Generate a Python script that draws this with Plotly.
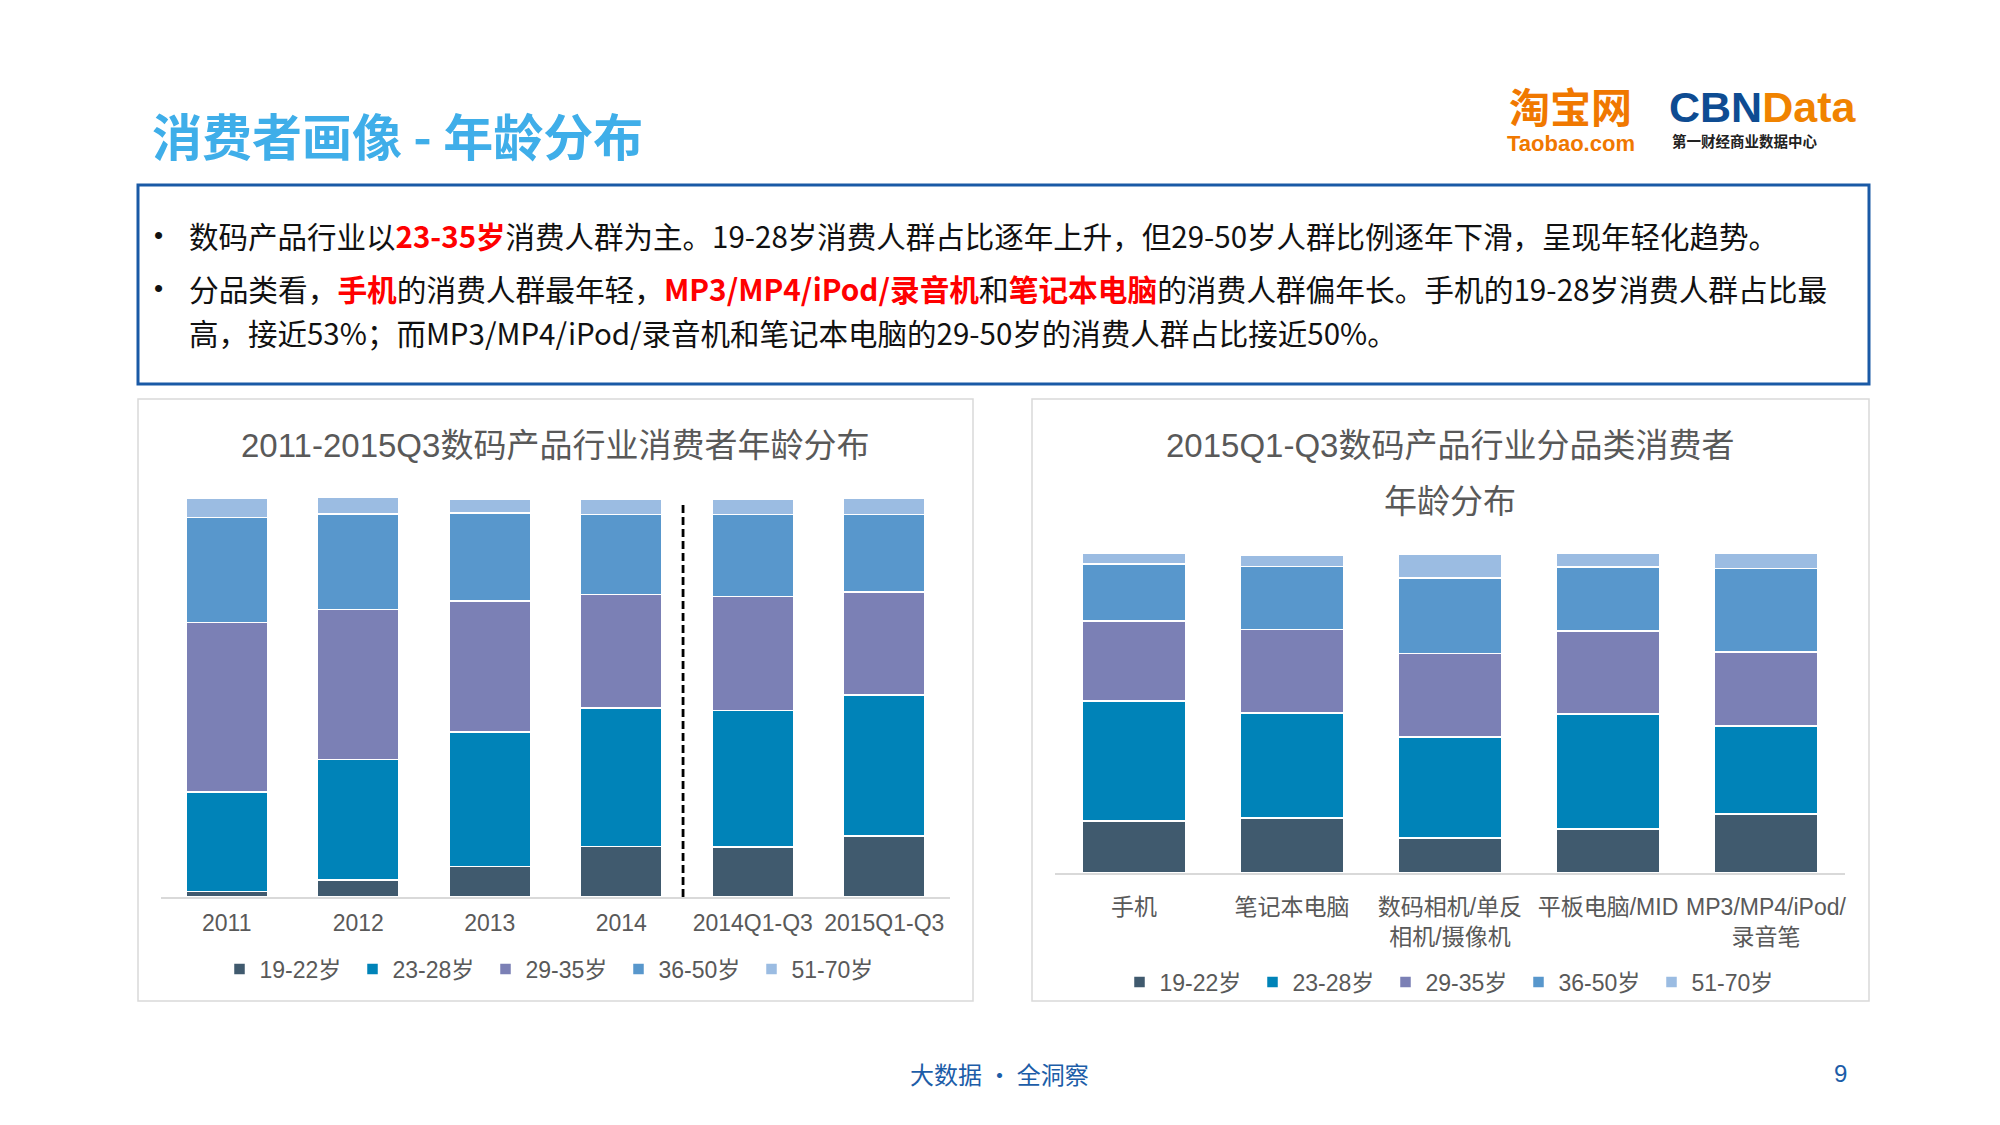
import plotly.graph_objects as go

# ---------------- data ----------------
years = ["2011", "2012", "2013", "2014", "2014Q1-Q3", "2015Q1-Q3"]
age_groups = ["19-22岁", "23-28岁", "29-35岁", "36-50岁", "51-70岁"]

trend_19_22 = [1.4, 4.2, 7.7, 12.7, 12.5, 15.3]
trend_23_28 = [24.9, 30.2, 33.7, 34.7, 34.2, 35.3]
trend_29_35 = [42.5, 37.6, 32.8, 28.4, 28.6, 25.9]
trend_36_50 = [26.3, 24.0, 22.0, 20.1, 20.6, 19.4]
trend_51_70 = [4.9, 4.1, 3.6, 3.8, 3.8, 4.1]

categories = ["手机", "笔记本电脑", "数码相机/单反相机/摄像机", "平板电脑/MID", "MP3/MP4/iPod/录音笔"]
category_ticks = ["手机", "笔记本电脑", "数码相机/单反<br>相机/摄像机", "平板电脑/MID", "MP3/MP4/iPod/<br>录音笔"]

cat_19_22 = [16.3, 17.2, 11.0, 13.8, 18.5]
cat_23_28 = [37.6, 32.9, 31.7, 36.1, 27.6]
cat_29_35 = [25.1, 26.3, 26.1, 26.0, 23.2]
cat_36_50 = [17.9, 19.7, 23.7, 20.1, 26.1]
cat_51_70 = [3.2, 3.5, 7.3, 4.2, 4.7]

colors = ["#405A6E", "#0083B8", "#7B80B5", "#5897CC", "#9BBCE2"]

W, H = 2000, 1125


def px(x):
    return x / W


def py(y):
    return 1 - y / H


CHART_FONT = "Liberation Sans, Arial, Noto Sans CJK SC, sans-serif"
CJK_FONT = "Noto Sans CJK SC, Microsoft YaHei, sans-serif"
GRAY = "#595959"

fig = go.Figure()

trend_series = [trend_19_22, trend_23_28, trend_29_35, trend_36_50, trend_51_70]
cat_series = [cat_19_22, cat_23_28, cat_29_35, cat_36_50, cat_51_70]

for name, vals, col in zip(age_groups, trend_series, colors):
    fig.add_trace(go.Bar(
        x=years, y=vals, name=name, width=0.617,
        marker=dict(color=col, line=dict(color="white", width=1.5)),
        xaxis="x", yaxis="y", legend="legend", hoverinfo="x+y+name",
    ))

for name, vals, col in zip(age_groups, cat_series, colors):
    fig.add_trace(go.Bar(
        x=categories, y=vals, name=name, width=0.66,
        marker=dict(color=col, line=dict(color="white", width=1.5)),
        xaxis="x2", yaxis="y2", legend="legend2", hoverinfo="x+y+name",
    ))

axis_common = dict(showgrid=False, zeroline=False, ticks="",
                   showline=True, linecolor="#D9D9D9", linewidth=2,
                   tickfont=dict(family=CHART_FONT, size=23, color=GRAY),
                   fixedrange=True)

legend_common = dict(orientation="h", yanchor="middle", xanchor="center",
                     font=dict(family=CHART_FONT, size=23, color=GRAY),
                     traceorder="normal", entrywidth=88, entrywidthmode="pixels",
                     bgcolor="rgba(0,0,0,0)")

fig.update_layout(
    width=W, height=H,
    margin=dict(l=0, r=0, t=0, b=0),
    paper_bgcolor="white", plot_bgcolor="rgba(0,0,0,0)",
    barmode="stack",
    showlegend=True,
    xaxis=dict(domain=[px(161), px(950)], anchor="y", type="category",
               ticklabelstandoff=4, **axis_common),
    yaxis=dict(domain=[py(897), py(498)], range=[0, 100], visible=False,
               anchor="x", fixedrange=True),
    xaxis2=dict(domain=[px(1055), px(1845)], anchor="y2", type="category",
                tickvals=categories, ticktext=category_ticks,
                ticklabelstandoff=12, **axis_common),
    yaxis2=dict(domain=[py(873), py(554)], range=[0, 100], visible=False,
                anchor="x2", fixedrange=True),
    legend=dict(x=px(552), y=py(969), **legend_common),
    legend2=dict(x=px(1452), y=py(982), **legend_common),
)

shapes = [
    # text box
    dict(type="rect", xref="paper", yref="paper", x0=px(138), x1=px(1869), y0=py(185), y1=py(384),
         line=dict(color="#1A5AA6", width=3), fillcolor="rgba(0,0,0,0)"),
    # chart frames
    dict(type="rect", xref="paper", yref="paper", x0=px(138), x1=px(973), y0=py(399), y1=py(1001),
         line=dict(color="#D9D9D9", width=1.5), fillcolor="rgba(0,0,0,0)", layer="below"),
    dict(type="rect", xref="paper", yref="paper", x0=px(1032), x1=px(1869), y0=py(399), y1=py(1001),
         line=dict(color="#D9D9D9", width=1.5), fillcolor="rgba(0,0,0,0)", layer="below"),
    # dashed separator
    dict(type="line", xref="x", yref="y", x0=3.47, x1=3.47, y0=0, y1=99,
         line=dict(color="black", width=2.8, dash="8px,4px")),
]
fig.update_layout(shapes=shapes)

RED = "#FF0000"


def red(t):
    return f'<span style="color:{RED}"><b>{t}</b></span>'


line1 = "数码产品行业以" + red("23-35岁") + "消费人群为主。19-28岁消费人群占比逐年上升，但29-50岁人群比例逐年下滑，呈现年轻化趋势。"
line2 = ("分品类看，" + red("手机") + "的消费人群最年轻，" + red("MP3/MP4/iPod/录音机") + "和"
         + red("笔记本电脑") + "的消费人群偏年长。手机的19-28岁消费人群占比最")
line3 = "高，接近53%；而MP3/MP4/iPod/录音机和笔记本电脑的29-50岁的消费人群占比接近50%。"

annotations = [
    # slide title
    dict(text="<b>消费者画像 - 年龄分布</b>", x=px(151), y=py(134), xanchor="left", yanchor="middle",
         font=dict(family=CJK_FONT, size=50, color="#3FAEE9")),
    # logos
    dict(text="<b>淘宝网</b>", x=px(1570), y=py(105), xanchor="center", yanchor="middle",
         font=dict(family=CJK_FONT, size=41, color="#F07800")),
    dict(text="<b>Taobao.com</b>", x=px(1571), y=py(143), xanchor="center", yanchor="middle",
         font=dict(family="Liberation Sans, Arial, sans-serif", size=22, color="#F07800")),
    dict(text='<b><span style="color:#0E4C92">CBN</span><span style="color:#F08300">Data</span></b>',
         x=px(1762), y=py(107), xanchor="center", yanchor="middle",
         font=dict(family="Liberation Sans, Arial, sans-serif", size=43, color="#0E4C92")),
    dict(text="<b>第一财经商业数据中心</b>", x=px(1671), y=py(141), xanchor="left", yanchor="middle",
         font=dict(family=CJK_FONT, size=14.5, color="#222222")),
    # bullets
    dict(text="•", x=px(158), y=py(235), xanchor="center", yanchor="middle",
         font=dict(family="Liberation Sans, Arial, sans-serif", size=26, color="#111111")),
    dict(text="•", x=px(158), y=py(288), xanchor="center", yanchor="middle",
         font=dict(family="Liberation Sans, Arial, sans-serif", size=26, color="#111111")),
    dict(text=line1, x=px(188), y=py(235), xanchor="left", yanchor="middle",
         font=dict(family=CJK_FONT, size=29.5, color="#111111")),
    dict(text=line2, x=px(188), y=py(288), xanchor="left", yanchor="middle",
         font=dict(family=CJK_FONT, size=29.7, color="#111111")),
    dict(text=line3, x=px(188), y=py(332), xanchor="left", yanchor="middle",
         font=dict(family=CJK_FONT, size=29.5, color="#111111")),
    # chart titles
    dict(text="2011-2015Q3数码产品行业消费者年龄分布", x=px(555), y=py(445), xanchor="center", yanchor="middle",
         font=dict(family=CHART_FONT, size=33, color=GRAY)),
    dict(text="2015Q1-Q3数码产品行业分品类消费者", x=px(1450), y=py(445), xanchor="center", yanchor="middle",
         font=dict(family=CHART_FONT, size=33, color=GRAY)),
    dict(text="年龄分布", x=px(1450), y=py(501), xanchor="center", yanchor="middle",
         font=dict(family=CHART_FONT, size=33, color=GRAY)),
    # footer
    dict(text="大数据 · 全洞察", x=px(999), y=py(1073), xanchor="center", yanchor="middle",
         font=dict(family=CJK_FONT, size=24, color="#1C5DA8")),
    dict(text="9", x=px(1840), y=py(1073), xanchor="center", yanchor="middle",
         font=dict(family="Liberation Sans, Arial, sans-serif", size=24, color="#1C5DA8")),
]
for a in annotations:
    a.update(xref="paper", yref="paper", showarrow=False, borderpad=0)
fig.update_layout(annotations=annotations)

fig.write_html("out.html", config={"displayModeBar": False},
               post_script="document.body.style.margin='0';")
